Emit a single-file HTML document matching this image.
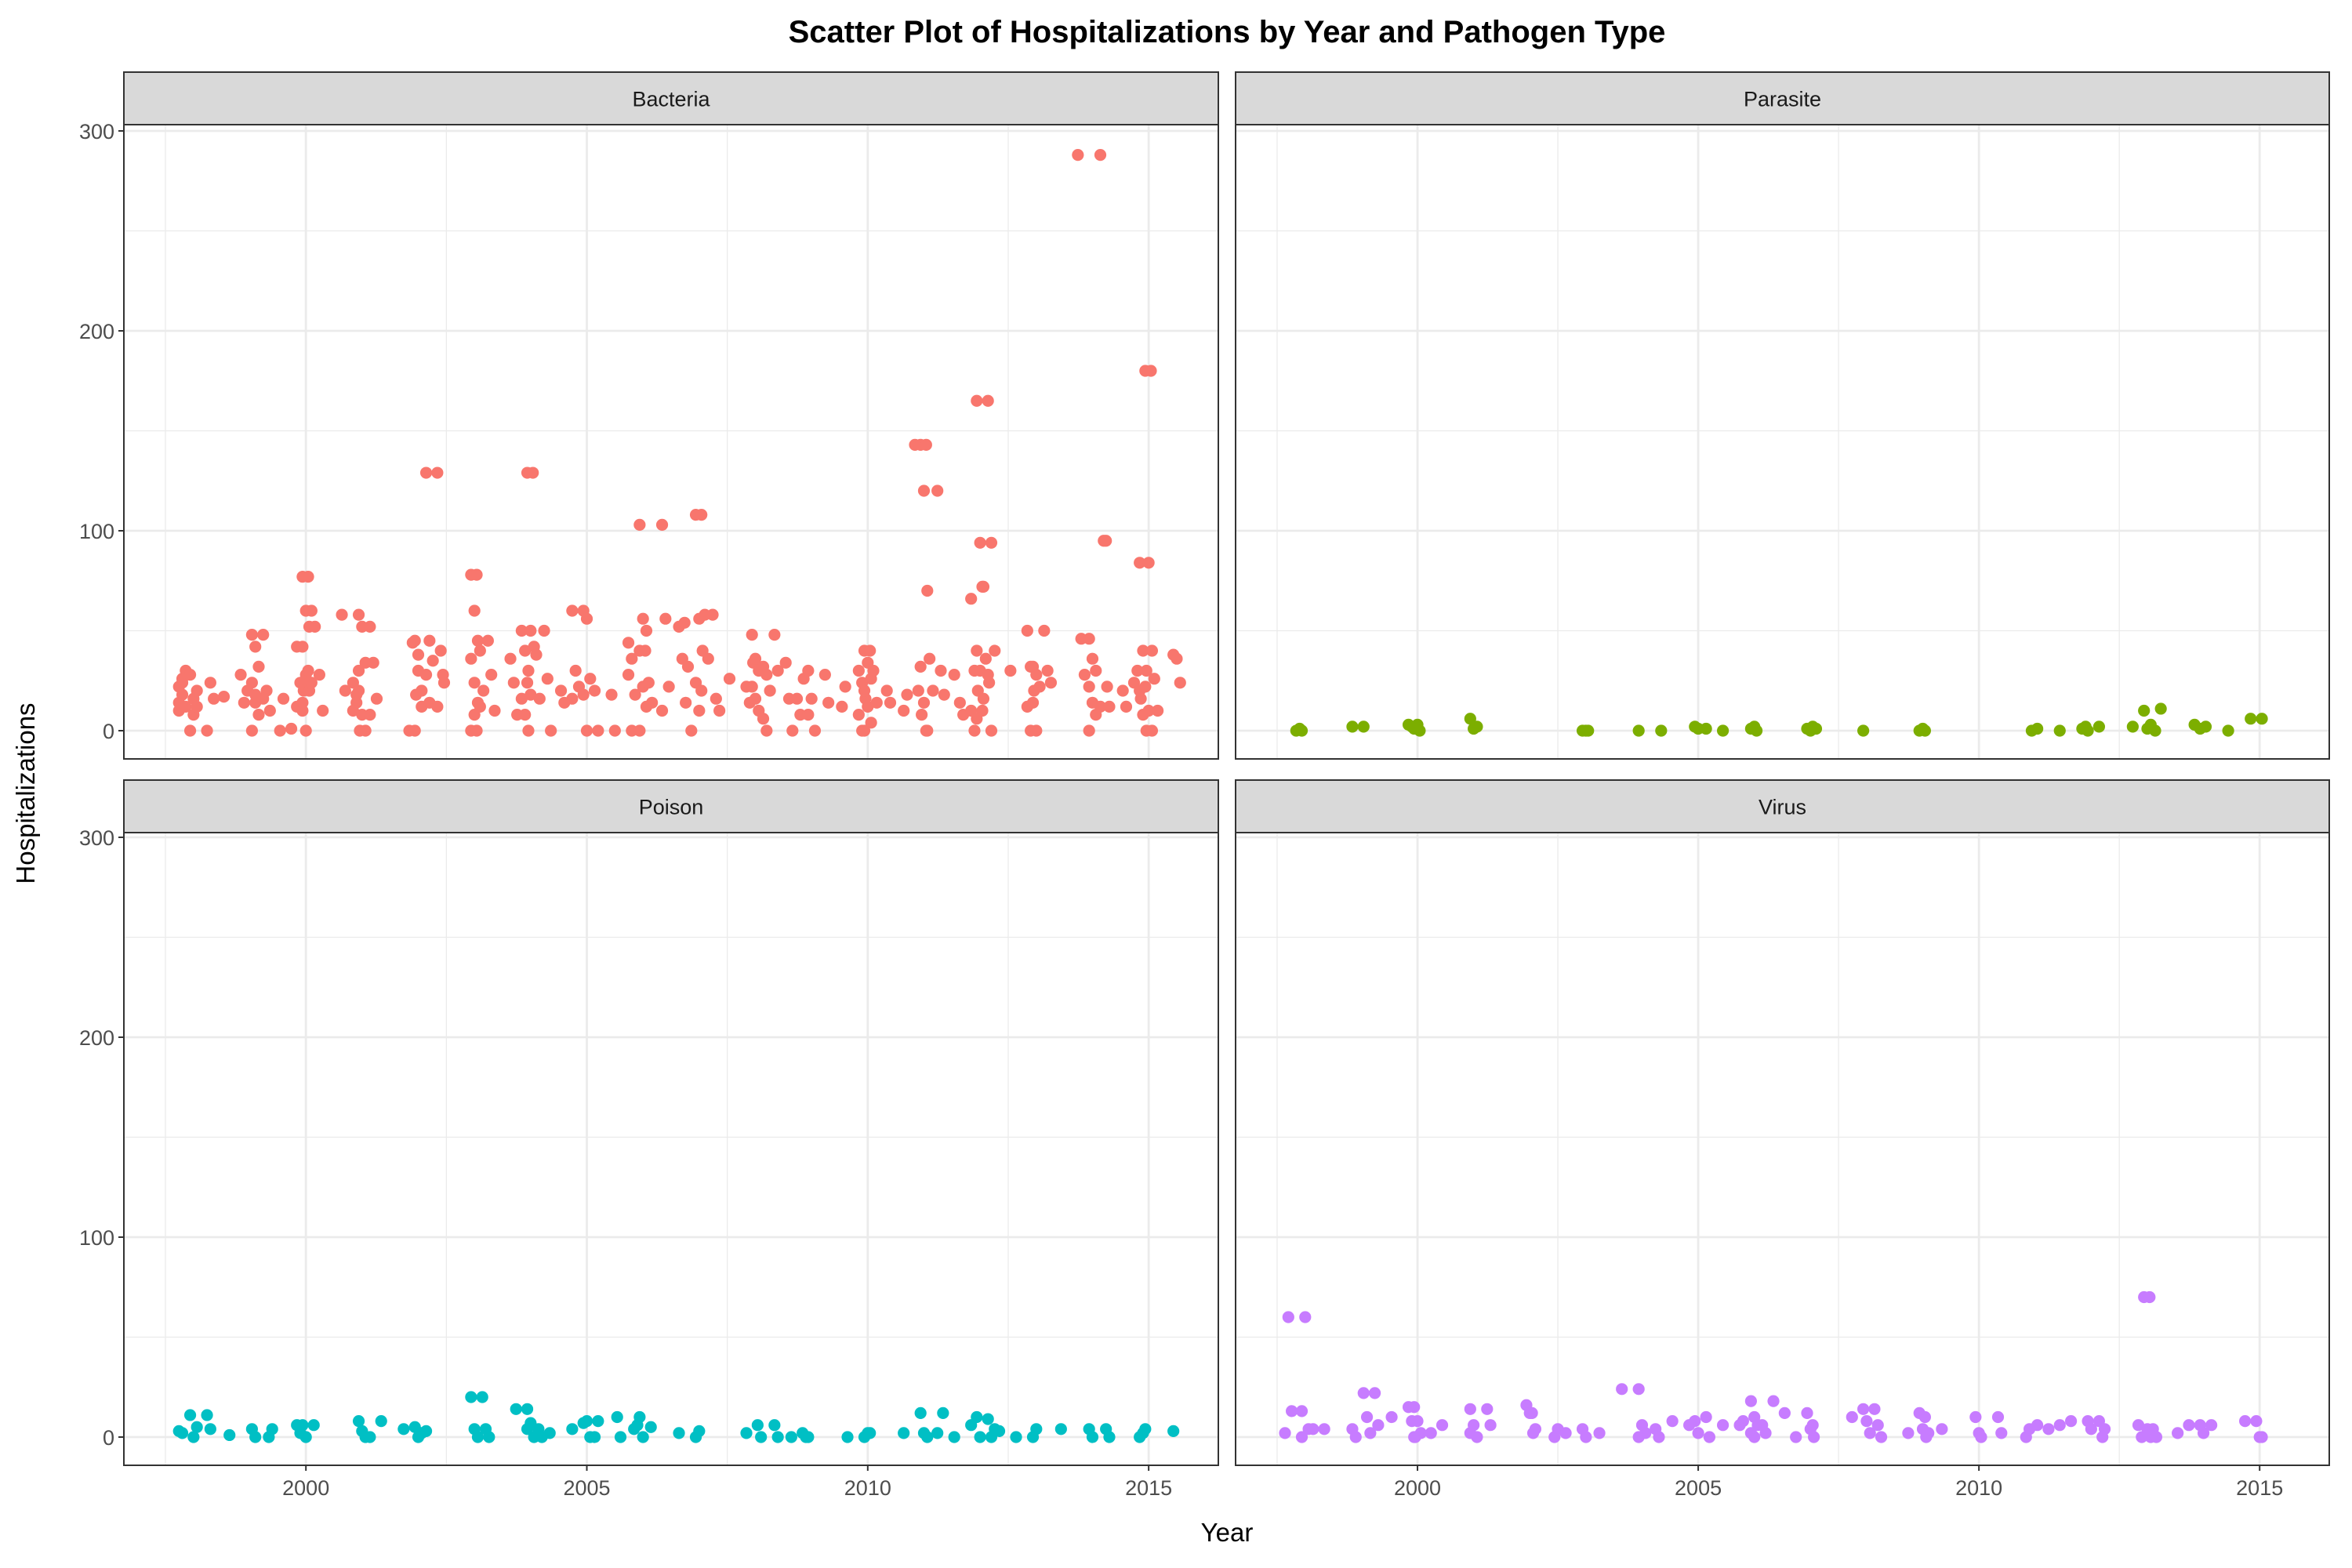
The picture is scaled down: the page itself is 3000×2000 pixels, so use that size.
<!DOCTYPE html>
<html><head><meta charset="utf-8"><style>
html,body{margin:0;padding:0;background:#fff}
svg{display:block;font-family:"Liberation Sans",Arial,sans-serif}
</style></head><body>
<svg id="chart" width="3000" height="2000" viewBox="0 0 3000 2000">
<rect width="3000" height="2000" fill="#fff"/>
<text x="1565" y="54" text-anchor="middle" font-size="40" font-weight="bold" fill="#000">Scatter Plot of Hospitalizations by Year and Pathogen Type</text>
<text x="1565" y="1966" text-anchor="middle" font-size="33" fill="#000">Year</text>
<text transform="translate(44,1012) rotate(-90)" text-anchor="middle" font-size="33" fill="#000">Hospitalizations</text>
<g id="panels"></g>
</svg>
<script>
const panelNames = ["Bacteria","Parasite","Poison","Virus"];
const colors = ["#F8766D","#7CAE00","#00BFC4","#C77CFF"];
const xTicks = [2000,2005,2010,2015];
const xMinor = [1997.5,2002.5,2007.5,2012.5];
const yTicks = [0,100,200,300];
const yMinor = [50,150,250];
const bacteria = [
[1997.8,[14,24,30,10,18,12,22,26]],[1998.0,[0,8,20,28,16,12]],[1998.3,[0,24,16]],[1998.6,[17]],[1998.9,[28,14,20]],
[1999.1,[48,42,32,24,14,8,0,18]],[1999.3,[48,20,10,16]],[1999.6,[0,16]],[1999.8,[1]],[1999.9,[42,24,20,12]],
[2000.0,[77,60,52,42,28,20,10,0,24,14]],[2000.1,[77,60,52,30,24]],[2000.3,[28,10]],[2000.7,[58,20]],[2000.9,[24,14,0,10,18]],
[2001.0,[58,52,34,20,8,0,30]],[2001.2,[52,34,16,8]],[2001.9,[0,44,18]],[2002.0,[45,30,12,0,38,20]],[2002.2,[129,45,35,28,14]],
[2002.4,[129,40,24,12]],[2002.5,[28]],[2003.0,[78,60,45,36,24,14,0,8]],[2003.1,[78,40,20,0,12]],[2003.3,[45,28,10]],
[2003.7,[36,24,8]],[2003.9,[50,40,30,16,8,0]],[2004.0,[129,50,42,24,18]],[2004.1,[129,38,16]],[2004.3,[50,26,0]],
[2004.6,[20,14]],[2004.8,[60,30,22,16]],[2005.0,[60,56,26,18,0]],[2005.2,[20,0]],[2005.5,[18,0]],[2005.8,[44,36,18,28,0]],
[2006.0,[103,56,50,40,22,12,0]],[2006.1,[40,24,14]],[2006.4,[103,56,22,10]],[2006.7,[52,36,14]],[2006.8,[54,32,0]],
[2007.0,[108,56,40,24,10]],[2007.1,[108,58,36,20]],[2007.3,[58,16,10]],[2007.6,[26]],[2007.9,[22,14,34]],
[2008.0,[48,36,30,22,16,10]],[2008.2,[32,28,20,6,0]],[2008.4,[48,30]],[2008.6,[34,16,0]],[2008.8,[16,8,26]],
[2009.0,[30,16,0,8]],[2009.3,[28,14]],[2009.6,[12,22]],[2009.9,[30,24,16,8,0]],[2010.0,[40,34,26,20,12,4,0]],
[2010.1,[40,30,14]],[2010.4,[20,14]],[2010.7,[10,18]],[2010.9,[143,20,8]],[2011.0,[143,120,70,32,14,0]],
[2011.1,[143,36,20,0]],[2011.3,[120,30,18]],[2011.6,[28]],[2011.7,[14,8]],[2011.9,[66,30,20,10,0]],
[2012.0,[165,94,72,40,30,16,6]],[2012.1,[72,36,24,10]],[2012.2,[165,94,40,28,0]],[2012.6,[30]],[2012.9,[50,32,20,12,0]],
[2013.0,[32,28,22,14,0]],[2013.2,[50,30,24]],[2013.8,[288,46,28]],[2014.0,[46,36,30,22,14,8,0]],[2014.2,[288,95,22,12]],
[2014.3,[95,12]],[2014.6,[20,12]],[2014.8,[24,30,16]],[2014.9,[84,40,30,20,8,0]],[2015.0,[180,84,40,22,10,0]],
[2015.1,[180,26,10]],[2015.5,[38,36,24]]];
const parasite = [
[1997.9,[0,1]],[1998.0,[0]],[1998.9,[2]],[1999.1,[2]],[1999.9,[3,2]],[2000.0,[1,3]],[2000.1,[0]],[2001.0,[6,1,2]],
[2003.0,[0,0]],[2003.1,[0]],[2004.0,[0]],[2004.4,[0]],[2005.0,[2,1]],[2005.2,[1]],[2005.5,[0]],[2006.0,[1,2]],[2006.1,[0]],
[2007.0,[1,0]],[2007.1,[2,1]],[2008.0,[0]],[2009.0,[0,1]],[2009.1,[0]],[2011.0,[0]],[2011.1,[1]],[2011.5,[0]],
[2011.9,[1,2]],[2012.0,[0]],[2012.2,[2]],[2012.8,[2]],[2013.0,[10,1,3]],[2013.2,[0]],[2013.3,[11]],[2013.9,[3]],
[2014.0,[1]],[2014.1,[2]],[2014.5,[0]],[2014.9,[6]],[2015.1,[6]]];
const poison = [
[1997.8,[3,2]],[1998.0,[11,0,5]],[1998.3,[11,4]],[1998.7,[1]],[1999.1,[4,0]],[1999.4,[0,4]],[1999.9,[6,2]],[2000.0,[6,0]],
[2000.2,[6]],[2001.0,[8,3,0]],[2001.2,[0]],[2001.4,[8]],[2001.8,[4]],[2002.0,[5,0,2]],[2002.2,[3]],[2003.0,[20,4,0]],
[2003.2,[20,4,0]],[2003.8,[14]],[2004.0,[14,7,0,4]],[2004.2,[4,0]],[2004.4,[2]],[2004.8,[4]],[2005.0,[7,8,0]],[2005.2,[0,8]],
[2005.6,[10,0]],[2005.9,[4,6]],[2006.0,[10,0]],[2006.2,[5]],[2006.7,[2]],[2007.0,[0,3]],[2007.9,[2]],[2008.1,[6,0]],
[2008.4,[6,0]],[2008.7,[0]],[2008.9,[2,0]],[2009.0,[0]],[2009.7,[0]],[2010.0,[0,2]],[2010.1,[2]],[2010.7,[2]],
[2011.0,[12,2,0]],[2011.3,[2]],[2011.4,[12]],[2011.6,[0]],[2011.9,[6]],[2012.0,[10,0]],[2012.2,[9,0,4]],[2012.4,[3]],
[2012.7,[0]],[2013.0,[0,4]],[2013.5,[4]],[2014.0,[4,0]],[2014.3,[4,0]],[2014.9,[0,2]],[2015.0,[4]],[2015.5,[3]]];
const virus = [
[1997.7,[2,60,13]],[1998.0,[0,60,4,13]],[1998.2,[4]],[1998.4,[4]],[1998.9,[4,0]],[1999.1,[22,10,2]],[1999.3,[22,6]],
[1999.6,[10]],[1999.9,[15,8,0]],[2000.0,[15,8,2,0]],[2000.3,[2]],[2000.5,[6]],[2001.0,[14,6,0,2]],[2001.3,[14,6]],
[2002.0,[16,12,2]],[2002.1,[12,4]],[2002.5,[0,4]],[2002.7,[2]],[2003.0,[4,0]],[2003.3,[2]],[2003.7,[24]],
[2004.0,[24,6,2,0]],[2004.3,[4,0]],[2004.6,[8]],[2004.9,[6]],[2005.0,[8,2]],[2005.2,[10,0]],[2005.5,[6]],[2005.8,[6,8]],
[2006.0,[18,10,6,2,0]],[2006.2,[6,2]],[2006.4,[18]],[2006.6,[12]],[2006.8,[0]],[2007.0,[12,4,0]],[2007.1,[6]],
[2007.8,[10]],[2008.0,[14,8,2]],[2008.2,[14,6,0]],[2008.8,[2]],[2009.0,[12,4,0]],[2009.1,[10,2]],[2009.4,[4]],
[2010.0,[10,2]],[2010.1,[0]],[2010.4,[10,2]],[2010.9,[0,4]],[2011.1,[6]],[2011.3,[4]],[2011.5,[6]],[2011.7,[8]],
[2012.0,[8,4]],[2012.2,[8,0]],[2012.3,[4]],[2012.9,[6,0]],[2013.0,[70,4,0]],[2013.1,[70,4,0]],[2013.6,[2]],
[2013.8,[6]],[2014.0,[6,2]],[2014.2,[6]],[2014.8,[8]],[2015.0,[8,0]],[2015.1,[0]]];
const seriesList = [bacteria, parasite, poison, virus];

const NS = "http://www.w3.org/2000/svg";
const root = document.getElementById("panels");
function mk(tag, attrs, parent){const e=document.createElementNS(NS,tag);for(const k in attrs)e.setAttribute(k,attrs[k]);parent.appendChild(e);return e;}
const layout = [
 {x0:158,x1:1554,sTop:92,sBot:159,pBot:968},
 {x0:1576,x1:2971,sTop:92,sBot:159,pBot:968},
 {x0:158,x1:1554,sTop:995,sBot:1062,pBot:1869},
 {x0:1576,x1:2971,sTop:995,sBot:1062,pBot:1869}];
for(let p=0;p<4;p++){
  const L = layout[p];
  const pxYr = (L.x1-L.x0)/(2016.24-1996.76);
  const xs = v => L.x0 + (v-1996.76)*pxYr;
  const y0 = L.pBot - 36, ppu = 2.55;
  const ys = v => y0 - v*ppu;
  const g = mk("g",{},root);
  
  
  mk("rect",{x:L.x0,y:L.sBot,width:L.x1-L.x0,height:L.pBot-L.sBot,fill:"#fff"},g);
  yMinor.forEach(v=>mk("line",{x1:L.x0,x2:L.x1,y1:ys(v),y2:ys(v),stroke:"#ebebeb","stroke-width":1.3},g));
  xMinor.forEach(v=>mk("line",{x1:xs(v),x2:xs(v),y1:L.sBot,y2:L.pBot,stroke:"#ebebeb","stroke-width":1.3},g));
  yTicks.forEach(v=>mk("line",{x1:L.x0,x2:L.x1,y1:ys(v),y2:ys(v),stroke:"#ebebeb","stroke-width":2.8},g));
  xTicks.forEach(v=>mk("line",{x1:xs(v),x2:xs(v),y1:L.sBot,y2:L.pBot,stroke:"#ebebeb","stroke-width":2.8},g));
  const series = seriesList[p];
  series.forEach(([yr,vals])=>{
    vals.forEach((v,i)=>{
      const jit = ((i%3)-1)*0.06;
      const c = mk("circle",{cx:xs(yr+jit),cy:ys(v),r:7.6,fill:colors[p]},g);
      
      
    });
  });
  mk("rect",{x:L.x0,y:L.sBot,width:L.x1-L.x0,height:L.pBot-L.sBot,fill:"none",stroke:"#333","stroke-width":2},g);
  const strip = mk("rect",{x:L.x0,y:L.sTop,width:L.x1-L.x0,height:L.sBot-L.sTop,fill:"#d9d9d9",stroke:"#333","stroke-width":2},g);
  
  
  const st = mk("text",{x:(L.x0+L.x1)/2,y:(L.sTop+L.sBot)/2+10,"text-anchor":"middle","font-size":27,fill:"#1a1a1a"},g);
  st.textContent = panelNames[p];
  
  
  if(p%2===0){
    yTicks.forEach(v=>{
      mk("line",{x1:L.x0-7,x2:L.x0,y1:ys(v),y2:ys(v),stroke:"#333","stroke-width":2},g);
      const t = mk("text",{x:L.x0-12,y:ys(v)+10,"text-anchor":"end","font-size":27,fill:"#4d4d4d"},g);
      t.textContent = v;
      
      
    });
  }
  if(p>=2){
    xTicks.forEach(v=>{
      mk("line",{x1:xs(v),x2:xs(v),y1:L.pBot,y2:L.pBot+7,stroke:"#333","stroke-width":2},g);
      const t = mk("text",{x:xs(v),y:L.pBot+38,"text-anchor":"middle","font-size":27,fill:"#4d4d4d"},g);
      t.textContent = v;
      
      
    });
  }
}
</script>
</body></html>
